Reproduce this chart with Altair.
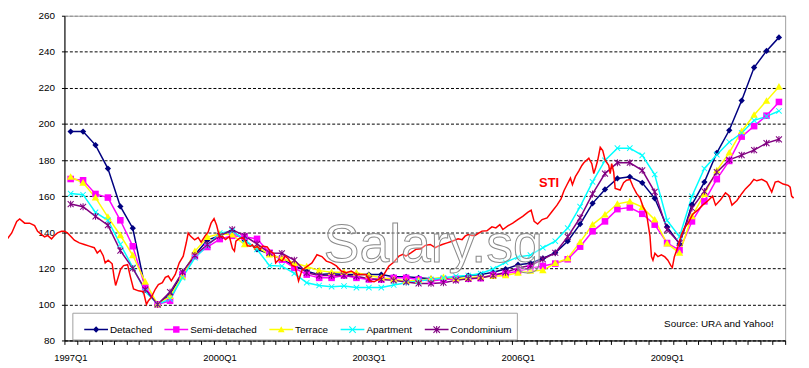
import altair as alt
import pandas as pd

series = ["Detached", "Semi-detached", "Terrace", "Apartment", "Condominium"]
colors = ["#000080", "#FF00FF", "#FFFF00", "#00FFFF", "#800080"]
quarters = [f"{1997 + i // 4}Q{i % 4 + 1}" for i in range(58)]
tick_years = [1997, 2000, 2003, 2006, 2009]

detached = [195.8, 195.8, 188.3, 175.3, 154.3, 142.2, 109.0, 100.0, 105.5, 117.5,
            127.6, 135.6, 138.0, 140.8, 135.5, 130.5, 128.0, 125.0, 121.5, 118.4,
            116.5, 117.0, 116.5, 116.5, 116.5, 116.5, 115.3, 115.3, 114.7, 114.2,
            114.2, 114.7, 116.0, 116.5, 117.8, 119.6, 122.0, 122.8, 125.5, 128.6,
            135.0, 144.5, 156.0, 163.7, 169.8, 170.7, 167.4, 158.8, 142.9, 133.5,
            155.3, 167.8, 184.0, 196.5, 213.0, 231.3, 240.5, 248.0]
semi = [169.5, 168.8, 161.2, 159.2, 146.6, 132.2, 109.5, 100.0, 102.0, 116.6,
        126.7, 131.8, 136.2, 138.0, 137.5, 136.3, 128.6, 124.8, 120.2, 116.5,
        114.7, 114.7, 116.0, 114.7, 113.8, 113.8, 114.7, 114.7, 113.8, 112.9,
        113.8, 114.0, 114.2, 114.5, 116.4, 117.1, 118.4, 120.0, 121.3, 122.6,
        125.0, 132.0, 140.5, 146.0, 152.8, 153.7, 150.2, 144.2, 134.0, 130.0,
        146.0, 157.1, 169.4, 179.5, 193.0, 198.8, 204.6, 212.2]
terrace = [170.6, 167.4, 159.2, 148.4, 138.3, 127.2, 112.5, 100.0, 104.5, 115.4,
           129.4, 137.3, 139.1, 138.6, 133.2, 132.0, 127.5, 125.6, 122.9, 121.0,
           118.7, 117.8, 117.8, 117.5, 116.0, 114.7, 113.8, 112.9, 113.3, 114.2,
           115.1, 114.2, 114.7, 115.3, 115.6, 116.0, 117.5, 118.5, 118.9, 122.8,
           125.5, 134.5, 144.2, 149.7, 155.7, 157.0, 153.9, 146.9, 133.7, 128.5,
           148.8, 161.1, 174.2, 184.1, 196.0, 205.0, 212.8, 220.6]
apartment = [161.4, 160.8, 151.0, 146.6, 133.3, 120.5, 107.2, 100.0, 103.0, 114.8,
             125.8, 132.5, 139.5, 140.6, 135.8, 130.5, 121.5, 121.2, 117.2, 112.0,
             110.5, 109.8, 110.2, 109.3, 109.3, 109.3, 110.7, 112.0, 112.9, 113.8,
             114.7, 115.6, 116.0, 117.1, 119.6, 123.3, 126.3, 127.3, 131.4, 135.0,
             142.3, 154.2, 167.9, 179.8, 186.6, 186.6, 182.6, 172.0, 146.5, 137.5,
             159.9, 175.3, 183.0, 190.0, 195.0, 202.0, 204.2, 207.2]
condo = [155.6, 154.1, 148.8, 143.9, 129.8, 120.0, 108.2, 100.0, 106.8, 117.9,
         127.2, 133.1, 138.0, 141.5, 138.0, 133.5, 128.5, 128.3, 124.5, 117.5,
         116.0, 116.0, 116.0, 115.6, 114.2, 113.8, 113.3, 112.4, 111.6, 111.6,
         112.0, 113.3, 114.2, 114.7, 116.0, 117.8, 120.2, 121.5, 125.0, 128.6,
         137.4, 148.0, 161.2, 172.5, 178.5, 178.5, 174.3, 162.4, 141.4, 134.0,
         153.4, 162.6, 173.3, 180.1, 182.7, 185.5, 189.4, 191.5]

sti_date = [1995.75, 1995.85, 1995.94, 1996.04, 1996.10, 1996.20, 1996.30, 1996.40, 1996.46, 1996.54,
            1996.60, 1996.66, 1996.74, 1996.80, 1996.86, 1996.94, 1997.00, 1997.06, 1997.14, 1997.20,
            1997.30, 1997.40, 1997.50, 1997.60, 1997.66, 1997.72, 1997.78, 1997.82, 1997.88, 1997.96,
            1998.00, 1998.03, 1998.07, 1998.13, 1998.19, 1998.27, 1998.33, 1998.39, 1998.49, 1998.59,
            1998.65, 1998.69, 1998.75, 1998.83, 1998.89, 1998.97, 1999.03, 1999.09, 1999.15, 1999.23,
            1999.31, 1999.39, 1999.45, 1999.49, 1999.54, 1999.62, 1999.69, 1999.75, 1999.83, 1999.89,
            1999.95, 2000.01, 2000.06, 2000.12, 2000.18, 2000.24, 2000.32, 2000.38, 2000.42, 2000.45,
            2000.52, 2000.58, 2000.64, 2000.68, 2000.74, 2000.78, 2000.82, 2000.88, 2000.94, 2000.98,
            2001.08, 2001.14, 2001.22, 2001.25, 2001.32, 2001.38, 2001.44, 2001.51, 2001.58, 2001.64,
            2001.71, 2001.78, 2001.88, 2001.98, 2002.08, 2002.18, 2002.27, 2002.37, 2002.47, 2002.57,
            2002.67, 2002.77, 2002.87, 2002.97, 2003.07, 2003.14, 2003.23, 2003.33, 2003.43, 2003.53,
            2003.63, 2003.73, 2003.81, 2003.87, 2003.97, 2004.07, 2004.17, 2004.26, 2004.36, 2004.46,
            2004.52, 2004.60, 2004.70, 2004.80, 2004.92, 2005.00, 2005.06, 2005.12, 2005.20, 2005.26,
            2005.40, 2005.50, 2005.60, 2005.68, 2005.76, 2005.82, 2005.92, 2006.02, 2006.12, 2006.22,
            2006.32, 2006.39, 2006.45, 2006.52, 2006.61, 2006.71, 2006.81, 2006.91, 2006.99, 2007.05,
            2007.11, 2007.18, 2007.22, 2007.28, 2007.35, 2007.41, 2007.45, 2007.55, 2007.61, 2007.65,
            2007.69, 2007.73, 2007.78, 2007.83, 2007.88, 2007.95, 2007.98, 2008.01, 2008.05, 2008.08,
            2008.18, 2008.25, 2008.31, 2008.38, 2008.44, 2008.51, 2008.58, 2008.64, 2008.71, 2008.74,
            2008.78, 2008.81, 2008.84, 2008.88, 2008.94, 2009.01, 2009.08, 2009.14, 2009.20, 2009.23,
            2009.27, 2009.34, 2009.41, 2009.47, 2009.54, 2009.64, 2009.74, 2009.84, 2009.94, 2010.04,
            2010.10, 2010.20, 2010.30, 2010.37, 2010.43, 2010.53, 2010.63, 2010.70, 2010.80, 2010.87,
            2010.93, 2011.03, 2011.13, 2011.23, 2011.30, 2011.36, 2011.46, 2011.56, 2011.60, 2011.63,
            2011.67]
sti_value = [138.0, 136.3, 139.6, 146.0, 147.3, 145.0, 145.0, 143.7, 140.5, 138.7,
             137.4, 138.2, 136.3, 138.2, 139.6, 140.5, 140.5, 139.6, 137.4, 135.6,
             134.1, 133.2, 132.3, 131.4, 128.5, 130.0, 127.0, 123.0, 124.5, 122.5,
             115.0, 110.5, 114.0, 119.5, 121.5, 122.0, 115.0, 108.5, 107.5, 107.0,
             100.0, 102.0, 104.0, 108.5, 111.0, 112.0, 115.0, 115.7, 113.0, 116.6,
             123.0, 126.7, 134.0, 139.5, 137.7, 135.8, 137.0, 134.5, 138.0, 140.0,
             145.0, 147.5, 144.0, 137.5, 137.7, 136.0, 137.5, 131.0, 129.5, 135.0,
             136.5, 137.0, 135.5, 132.5, 132.2, 133.0, 131.3, 132.0, 130.5, 132.3,
             131.8, 129.5, 128.0, 123.0, 125.0, 124.0, 126.8, 125.0, 121.5, 121.0,
             113.0, 119.0, 121.0, 123.0, 127.5, 126.5, 124.0, 123.0, 121.3, 118.5,
             117.6, 118.5, 116.7, 116.5, 116.5, 113.0, 112.5, 114.0, 116.7, 121.3,
             123.5, 126.8, 127.7, 126.8, 128.6, 130.5, 130.8, 132.7, 133.2, 131.4,
             132.3, 133.2, 134.1, 135.0, 136.3, 135.9, 137.8, 138.7, 138.2, 138.2,
             140.6, 140.8, 143.0, 142.4, 144.2, 141.5, 143.5, 145.0, 147.0, 148.8,
             151.0, 152.2, 146.0, 144.5, 147.0, 147.9, 151.5, 155.0, 158.5, 163.0,
             166.3, 170.0, 166.3, 170.8, 174.0, 177.0, 178.5, 181.0, 178.0, 172.5,
             176.0, 180.0, 187.1, 185.3, 179.8, 177.1, 172.5, 178.0, 173.4, 164.3,
             163.4, 167.5, 168.8, 169.2, 165.2, 161.5, 159.0, 154.2, 150.6, 145.0,
             137.8, 126.5, 124.5, 128.3, 126.5, 127.5, 126.3, 124.5, 121.5, 120.4,
             126.3, 131.8, 138.5, 142.3, 144.7, 150.0, 152.2, 155.0, 157.3, 160.0,
             155.0, 158.0, 161.8, 160.3, 155.0, 157.6, 161.5, 164.0, 166.7, 169.3,
             168.5, 169.3, 167.8, 162.3, 167.8, 168.2, 166.7, 166.0, 165.0, 160.0,
             158.9]

# ---------------------------------------------------------------- tables
rows = []
for name, vals in zip(series, [detached, semi, terrace, apartment, condo]):
    for q, v in zip(quarters, vals):
        yr, qn = int(q[:4]), int(q[-1])
        rows.append({"series": name, "quarter": q,
                     "t": yr + (qn - 1) * 0.25 + 0.125, "value": v})
house = pd.DataFrame(rows)
sti = pd.DataFrame({"t": sti_date, "value": sti_value})

# marker shapes (unit coords)
diamond = [(0, -1), (1, 0), (0, 1), (-1, 0)]
square = [(-1, -1), (1, -1), (1, 1), (-1, 1)]
triangle = [(0, -1.05), (1.05, 0.8), (-1.05, 0.8)]
xbar1 = [(-0.88, -1.12), (1.12, 0.88), (0.88, 1.12), (-1.12, -0.88)]
xbar2 = [(1.12, -0.88), (-0.88, 1.12), (-1.12, 0.88), (0.88, -1.12)]
vbar = [(-0.17, -1.15), (0.17, -1.15), (0.17, 1.15), (-0.17, 1.15)]
line_rect = [(-1, -0.065), (1, -0.065), (1, 0.065), (-1, 0.065)]
parts = [[diamond], [square], [triangle], [xbar1, xbar2], [xbar1, xbar2, vbar]]
sizes = [40, 44, 52, 30, 36]


def poly(pts, s=1.0):
    return "M" + "L".join(f"{x * s:.3f},{y * s:.3f}" for x, y in pts) + "Z"


marker_paths = ["".join(poly(p) for p in ps) for ps in parts]
legend_paths = [poly(line_rect) + "".join(poly(p, 0.27) for p in ps) for ps in parts]

FONT = "Liberation Sans"
x_scale = alt.Scale(domain=[1997, 2011.5], nice=False, zero=False)
y_scale = alt.Scale(domain=[80, 260], nice=False, zero=False)
color_scale = alt.Scale(domain=series, range=colors)
shape_scale = alt.Scale(domain=series, range=legend_paths)

x_ticks = [1997 + k * 0.25 for k in range(59)]
x_axis = alt.Axis(values=x_ticks, title=None, grid=False,
                  labelExpr="abs(datum.value - round(datum.value)) < 0.001 && (round(datum.value) - 1997) % 3 == 0 ? round(datum.value) + 'Q1' : ''",
                  labelOffset=6, labelOverlap=False, labelFlush=False,
                  labelFont=FONT, labelFontSize=9.5, labelColor="black",
                  tickSize=4, tickColor="black", domainColor="black",
                  labelPadding=8)
y_axis = alt.Axis(values=list(range(80, 261, 20)), title=None, grid=True,
                  gridDash=[3, 2],
                  gridColor={"condition": {"test": "datum.value === 260", "value": "#8c8c8c"},
                             "value": "#000000"},
                  labelFont=FONT, labelFontSize=10, labelColor="black",
                  tickSize=3, tickColor="black", domainColor="black",
                  labelPadding=7)
legend = alt.Legend(orient="none", legendX=8, legendY=300,
                    direction="horizontal", columns=5, title=None,
                    labelFont=FONT, labelFontSize=10, labelColor="black",
                    strokeColor="#a0a0a0", fillColor="white",
                    padding=5, symbolOffset=7, columnPadding=5,
                    labelOffset=2, symbolSize=576, symbolStrokeWidth=0)

X = alt.X("t:Q", scale=x_scale, axis=x_axis)
Y = alt.Y("value:Q", scale=y_scale, axis=y_axis)
C = alt.Color("series:N", scale=color_scale, legend=legend)
S = alt.Shape("series:N", scale=shape_scale, legend=legend)

base_h = alt.Chart(house)
lines = base_h.mark_line(strokeWidth=1.5).encode(
    x=X, y=Y, color=C, detail="series:N", order="t:Q",
)

point_layers = []
for name, col, path, sz in zip(series, colors, marker_paths, sizes):
    point_layers.append(
        base_h.transform_filter(alt.datum.series == name)
        .mark_point(shape=path, filled=True, size=sz, color=col, opacity=1, strokeWidth=0)
        .encode(x=X, y=Y)
    )

legend_layer = base_h.transform_filter("false").mark_point(
    filled=True, size=576, opacity=1, strokeWidth=0
).encode(x=X, y=Y, color=C, shape=S)

sti_line = alt.Chart(sti).mark_line(color="#FF0000", strokeWidth=1.5, clip=False).encode(
    x=X, y=Y, order="t:Q")

notes = pd.DataFrame({
    "t": [2006.75, 2011.27],
    "value": [167.3, 89.3],
    "label": ["STI", "Source: URA and Yahoo!"],
})
sti_label = alt.Chart(notes.iloc[[0]]).mark_text(
    font=FONT, fontSize=13, fontWeight="bold", color="#FF0000", align="center", baseline="middle"
).encode(x=X, y=Y, text="label:N")
source_label = alt.Chart(notes.iloc[[1]]).mark_text(
    font=FONT, fontSize=10, color="#000000", align="right", baseline="middle"
).encode(x=X, y=Y, text="label:N")

wm = pd.DataFrame({"t": [2004.42], "value": [123.4], "label": ["Salary.sg"]})
watermark = alt.Chart(wm).mark_text(
    font=FONT, fontSize=54, color="white", fillOpacity=0.35, stroke="#8a8a8a",
    strokeWidth=1, align="center", baseline="alphabetic"
).encode(x=X, y=Y, text="label:N")

chart = alt.layer(lines, *point_layers, sti_line, watermark, legend_layer, sti_label, source_label).properties(
    width=728, height=328,
    autosize=alt.AutoSizeParams(type="none"),
    padding={"left": 57, "top": 6, "right": 16, "bottom": 24},
).configure_view(stroke="#a0a0a0", strokeWidth=1).configure_axis(domainWidth=1, tickWidth=1, gridWidth=1)

chart.save("out.html", embed_options={"renderer": "svg", "actions": False})
